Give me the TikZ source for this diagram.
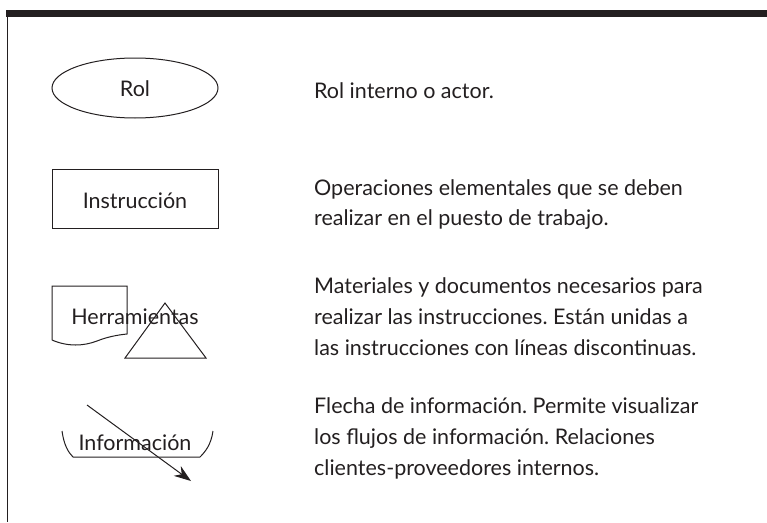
\documentclass[tikz,border=0pt]{standalone}
\usepackage{fontspec}
\setmainfont{Lato}
\frenchspacing
\usetikzlibrary{arrows.meta,shapes.geometric}
\definecolor{ink}{HTML}{231F20}
\tikzset{
  lbl/.style={font=\fontsize{21.5}{26}\selectfont, text=ink, inner sep=0pt},
  desc/.style={lbl, anchor=base west},
  shp/.style={draw=ink, line width=1pt},
}
\begin{document}
\begin{tikzpicture}[x=1pt,y=-1pt]
\useasboundingbox (0,0) rectangle (767,522);
% frame
\fill[ink] (6,10) rectangle (767,17);
\draw[ink, line width=1.3pt] (7.5,17) -- (7.5,522);
% Rol
\node[shp, ellipse, minimum width=166pt, minimum height=60pt, inner sep=0pt] (rol) at (135,88) {};
\node[lbl, anchor=base] (rolt) at (135,96) {Rol};
% Instruccion
\node[shp, rectangle, minimum width=166pt, minimum height=59pt, inner sep=0pt] (ins) at (135,198.5) {};
\node[lbl, anchor=base] (inst) at (135,208) {Instrucción};
% Herramientas
\draw[shp, line join=miter] (52,340) -- (52,286) -- (127,286) -- (127,334)
   .. controls (117,335) and (107,337) .. (97,341)
   .. controls (84,346) and (68,347) .. (52,340);
\draw[shp, line join=miter] (165,303) -- (206,358) -- (125,358) -- cycle;
\node[lbl, anchor=base] (herr) at (135,324) {Herramientas};
% Informacion
\draw[shp] (62,431) .. controls (64,445) and (68,452) .. (73,457) -- (200,457)
   .. controls (205,452) and (211,445) .. (213,431);
\node[lbl, anchor=base] (inf) at (135,450) {Información};
\coordinate (a1) at (87,405);
\coordinate (a2) at (191,481);
\draw[shp, -{Stealth[length=17pt,width=12pt]}] (a1) -- (a2);
% descriptions
\node[desc] (d1) at (314,98) {Rol interno o actor.};
\node[desc] (d2a) at (314,195) {Operaciones elementales que se deben};
\node[desc] (d2b) at (314,225) {realizar en el puesto de trabajo.};
\node[desc] (d3a) at (314,293) {Materiales y documentos necesarios para};
\node[desc] (d3b) at (314,324) {realizar las instrucciones. Están unidas a};
\node[desc] (d3c) at (314,355) {las instrucciones con líneas discontinuas.};
\node[desc] (d4a) at (314,413) {Flecha de información. Permite visualizar};
\node[desc] (d4b) at (314,444) {los flujos de información. Relaciones};
\node[desc] (d4c) at (314,475) {clientes-proveedores internos.};
\end{tikzpicture}
\end{document}
